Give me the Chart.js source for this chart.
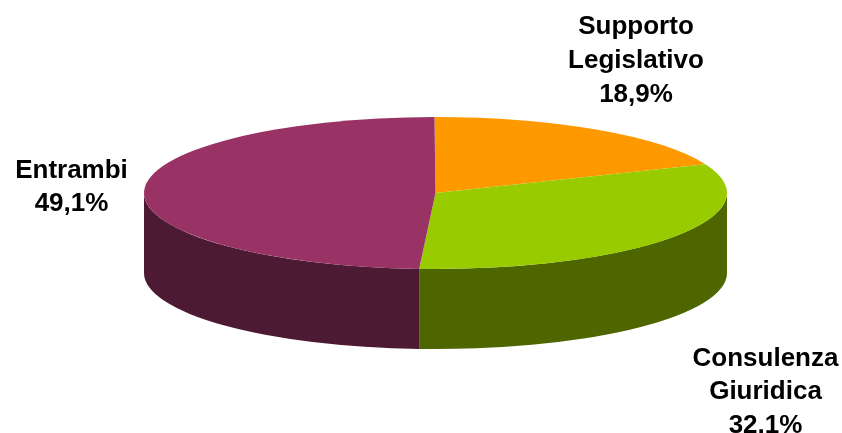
<!DOCTYPE html>
<html>
<head>
<meta charset="utf-8">
<style>
  html, body { margin: 0; padding: 0; background: #fff; overflow: hidden; }
  #wrap { width: 842px; height: 433px; }
</style>
<script src="https://cdn.jsdelivr.net/npm/chart.js@4"></script>
</head>
<body>
<div id="wrap"><canvas id="chart" width="842" height="433"></canvas></div>
<script>
// chart data
const categories = ["Supporto Legislativo", "Consulenza Giuridica", "Entrambi"];
const values = [18.9, 32.1, 49.1];
const topColors = ["#FF9900", "#99CC00", "#993366"];
const sideColors = ["#7F4C00", "#4D6600", "#4D1A33"];

// label text, one list of lines per slice
const labelLines = [["Supporto", "Legislativo"], ["Consulenza", "Giuridica"], ["Entrambi"]];
const labelCenters = [[636, 27], [765.5, 358.5], [71.5, 170.5]];
const lineHeight = 33.7;

// the pie is flattened into an ellipse and gets a painted rim
const pie = { cx: 435.5, cy: 193, rx: 291.5, ry: 76, depth: 80 };
const baseRadius = 150;

const tiltPlugin = {
    id: "tilt",
    beforeDatasetsDraw(chart) {
        const ctx = chart.ctx;
        const arcs = chart.getDatasetMeta(0).data;

        // rim: only the front half of the ellipse (0..PI) is visible
        arcs.forEach((arc, i) => {
            const start = Math.max(arc.startAngle, 0);
            const end = Math.min(arc.endAngle, Math.PI);
            if (end <= start) return;
            ctx.beginPath();
            ctx.ellipse(pie.cx, pie.cy, pie.rx, pie.ry, 0, start, end);
            ctx.ellipse(pie.cx, pie.cy + pie.depth, pie.rx, pie.ry, 0, end, start, true);
            ctx.closePath();
            ctx.fillStyle = sideColors[i];
            ctx.fill();
        });

        // top face: the library draws it through this transform
        const first = arcs[0];
        ctx.save();
        ctx.translate(pie.cx, pie.cy);
        ctx.scale(pie.rx / baseRadius, pie.ry / baseRadius);
        ctx.translate(-first.x, -first.y);
    },
    afterDatasetsDraw(chart) {
        const ctx = chart.ctx;
        ctx.restore();

        ctx.fillStyle = "#000";
        ctx.font = "bold 26px 'Liberation Sans'";
        ctx.textAlign = "center";
        ctx.textBaseline = "middle";
        labelLines.forEach((lines, i) => {
            const percent = values[i].toFixed(1).replace(".", ",") + "%";
            const [x, y] = labelCenters[i];
            lines.concat(percent).forEach((line, n) => {
                ctx.fillText(line, x, y + n * lineHeight);
            });
        });
    }
};

new Chart(document.getElementById("chart"), {
    type: "pie",
    data: {
        labels: categories,
        datasets: [{
            data: values,
            backgroundColor: topColors,
            borderWidth: 0,
            radius: baseRadius,
            rotation: -0.2
        }]
    },
    options: {
        responsive: false,
        animation: false,
        plugins: {
            legend: { display: false },
            tooltip: { enabled: false }
        }
    },
    plugins: [tiltPlugin]
});
</script>
</body>
</html>
